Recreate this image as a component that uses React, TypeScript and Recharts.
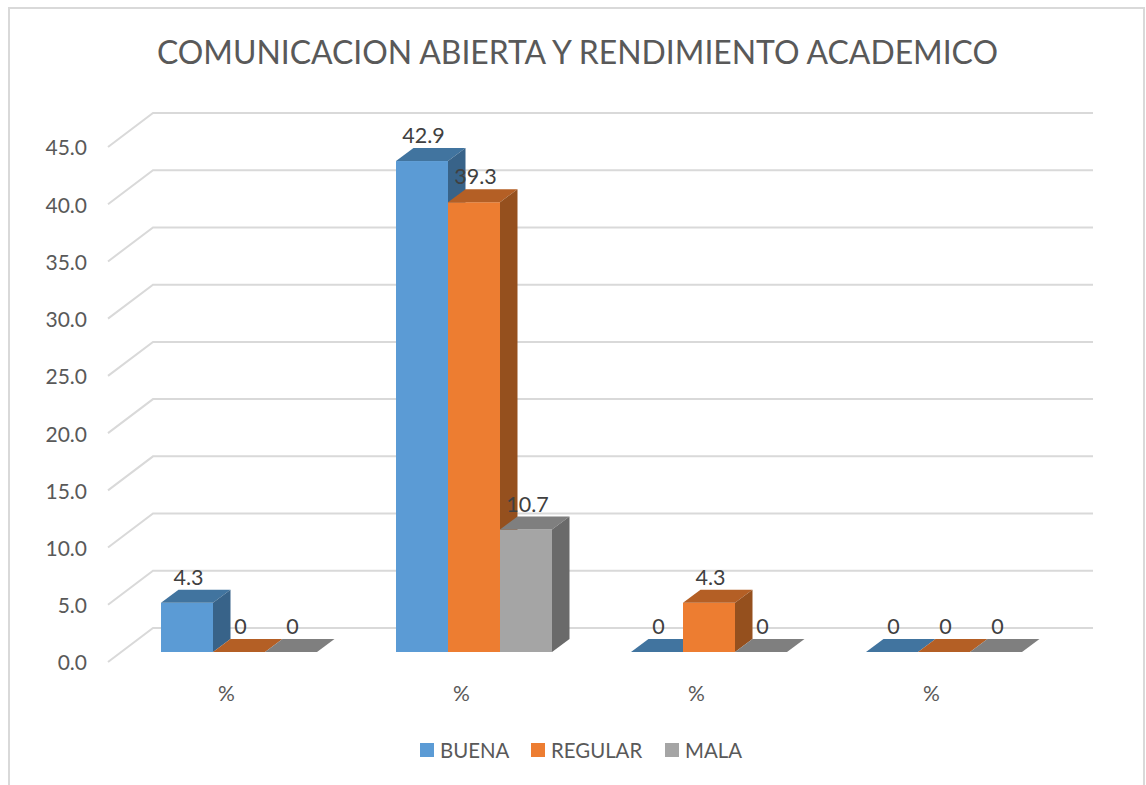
import React from "react";
import { BarChart, Bar, XAxis, YAxis, CartesianGrid, Legend, LabelList } from "recharts";

const categories = ["%", "%", "%", "%"];
const buena = [4.3, 42.9, 0, 0];
const regular = [0, 39.3, 4.3, 0];
const mala = [0, 10.7, 0, 0];
const yTicks = [0, 5, 10, 15, 20, 25, 30, 35, 40, 45];
const title = "COMUNICACION ABIERTA Y RENDIMIENTO ACADEMICO";

const FONT = "Lato, 'Open Sans', sans-serif";
const TEXT = "#595959";
const OFFSET_X = 13;
const OFFSET_Y = -10;
const DEPTH_X = 17.5;
const DEPTH_Y = -13;

const rows = categories.map((c, i) => ({ cat: c, buena: buena[i], regular: regular[i], mala: mala[i] }));

const seriesList = [
  { key: "buena", name: "BUENA", front: "#5B9BD5", top: "#41749F", side: "#386389" },
  { key: "regular", name: "REGULAR", front: "#ED7D31", top: "#B45F25", side: "#95501E" },
  { key: "mala", name: "MALA", front: "#A5A5A5", top: "#7F7F7F", side: "#6A6A6A" },
];

const bar3d = (s: { front: string; top: string; side: string }) => (p: any) => {
  const x = p.x + OFFSET_X;
  const y = p.y + OFFSET_Y;
  const w = p.width;
  const h = p.height;
  return (
    <g>
      <rect x={x} y={y} width={w} height={h} fill={s.front} />
      <path
        d={`M${x},${y}L${x + DEPTH_X},${y + DEPTH_Y}L${x + w + DEPTH_X},${y + DEPTH_Y}L${x + w},${y}Z`}
        fill={s.top}
      />
      <path
        d={`M${x + w},${y}L${x + w + DEPTH_X},${y + DEPTH_Y}L${x + w + DEPTH_X},${y + h + DEPTH_Y}L${x + w},${y + h}Z`}
        fill={s.side}
      />
    </g>
  );
};

const gridLine = (p: any) => {
  const d = `M${p.x1},${p.y1}L${p.x1 + 45},${p.y1 - 34}L${p.x2 + 45},${p.y2 - 34}`;
  return <path key={`g-${p.y1}`} d={d} fill="none" stroke="#D9D9D9" strokeWidth={2} />;
};

const dataLabel = (p: any) => (
  <text
    x={p.x + p.width / 2 + 14.5}
    y={p.y + OFFSET_Y - 26}
    textAnchor="middle"
    dominantBaseline="central"
    fontFamily={FONT}
    fontSize={21.5}
    fill="#404040"
  >
    {String(p.value)}
  </text>
);

const legendContent = () => (
  <div style={{ position: "relative", height: 30, fontFamily: FONT, fontSize: 20.4, color: TEXT }}>
    {seriesList.map((s, i) => {
      const left = [420, 531, 665][i];
      return (
        <div key={s.key} style={{ position: "absolute", left, top: 0, display: "flex", alignItems: "center", height: 30 }}>
          <span style={{ display: "inline-block", width: 14, height: 14, background: s.front, marginRight: 6 }} />
          <span>{s.name}</span>
        </div>
      );
    })}
  </div>
);

export default function App() {
  return (
    <div style={{ position: "absolute", left: 0, top: 0, width: 1146, height: 785, overflow: "hidden", background: "#fff" }}>
      <div
        style={{
          position: "absolute",
          left: 8,
          top: 7,
          width: 1133,
          height: 778,
          borderLeft: "2px solid #D9D9D9",
          borderRight: "2px solid #D9D9D9",
          borderTop: "2px solid #D9D9D9",
        }}
      />
      <div
        style={{
          position: "absolute",
          left: 0,
          top: 29,
          width: 1155,
          textAlign: "center",
          fontFamily: FONT,
          fontSize: 31.9,
          lineHeight: "46px",
          color: TEXT,
          whiteSpace: "nowrap",
        }}
      >
        {title}
      </div>
      <div style={{ position: "absolute", left: 0, top: 0 }}>
        <BarChart
          width={1146}
          height={785}
          data={rows}
          margin={{ top: 147, right: 98, bottom: 63, left: 0 }}
          barGap={0}
          barCategoryGap={39.5}
        >
          <CartesianGrid vertical={false} horizontal={gridLine} />
          <XAxis
            dataKey="cat"
            axisLine={false}
            tickLine={false}
            height={60}
            tickMargin={18}
            tick={{ fill: TEXT, fontFamily: FONT, fontSize: 21, dx: 1 }}
          />
          <YAxis
            width={108}
            domain={[0, 45]}
            ticks={yTicks}
            axisLine={false}
            tickLine={false}
            tickMargin={15}
            tickFormatter={(v: number) => v.toFixed(1)}
            tick={{ fill: TEXT, fontFamily: FONT, fontSize: 21, dy: 1 }}
          />
          <Legend
            layout="horizontal"
            verticalAlign="middle"
            wrapperStyle={{ left: 0, top: 735, width: 1146 }}
            content={legendContent}
          />
          {seriesList.map((s) => (
            <Bar key={s.key} dataKey={s.key} name={s.name} barSize={52} shape={bar3d(s)} isAnimationActive={false}>
              <LabelList dataKey={s.key} content={dataLabel} />
            </Bar>
          ))}
        </BarChart>
      </div>
    </div>
  );
}
